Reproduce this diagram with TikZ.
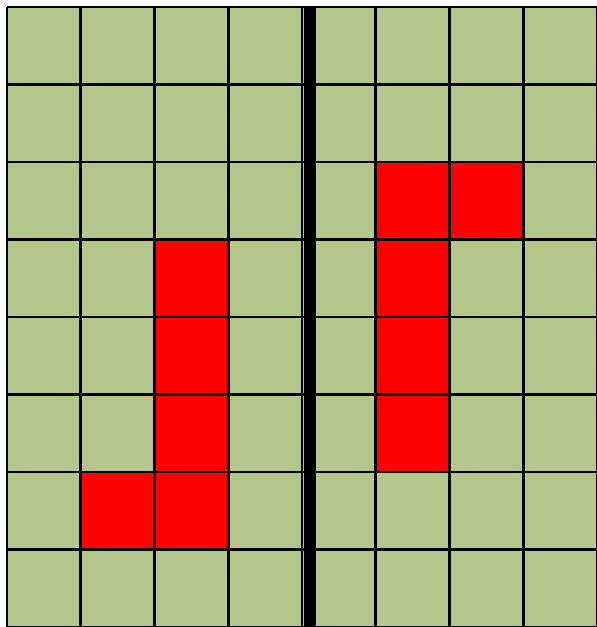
\documentclass[tikz,border=0pt]{standalone}
\definecolor{cellgreen}{RGB}{179,199,141}
\begin{document}
\begin{tikzpicture}[x=1pt, y=-1pt,
    gridline/.style={line width=2.6pt},
    hitcell/.style={fill=red}]
    \useasboundingbox (0,0) rectangle (597,627);
    % Board background
    \fill[cellgreen] (7,7) rectangle (597,627);
    % Red cells (column/row)
    \foreach \c/\r in {2/3, 2/4, 2/5, 2/6, 1/6, 5/2, 5/3, 5/4, 5/5, 6/2}
        \fill[hitcell] ({7+\c*73.75},{7+\r*77.5}) rectangle ++(73.75,77.5);
    % Grid lines
    \foreach \i in {0,...,8} {
        \draw[gridline] ({7+\i*73.75},7) -- ++(0,620);
        \draw[gridline] (7,{7+\i*77.5}) -- ++(590,0);
    }
    % Divider
    \fill[black] (304,7) rectangle (316,627);
\end{tikzpicture}
\end{document}
